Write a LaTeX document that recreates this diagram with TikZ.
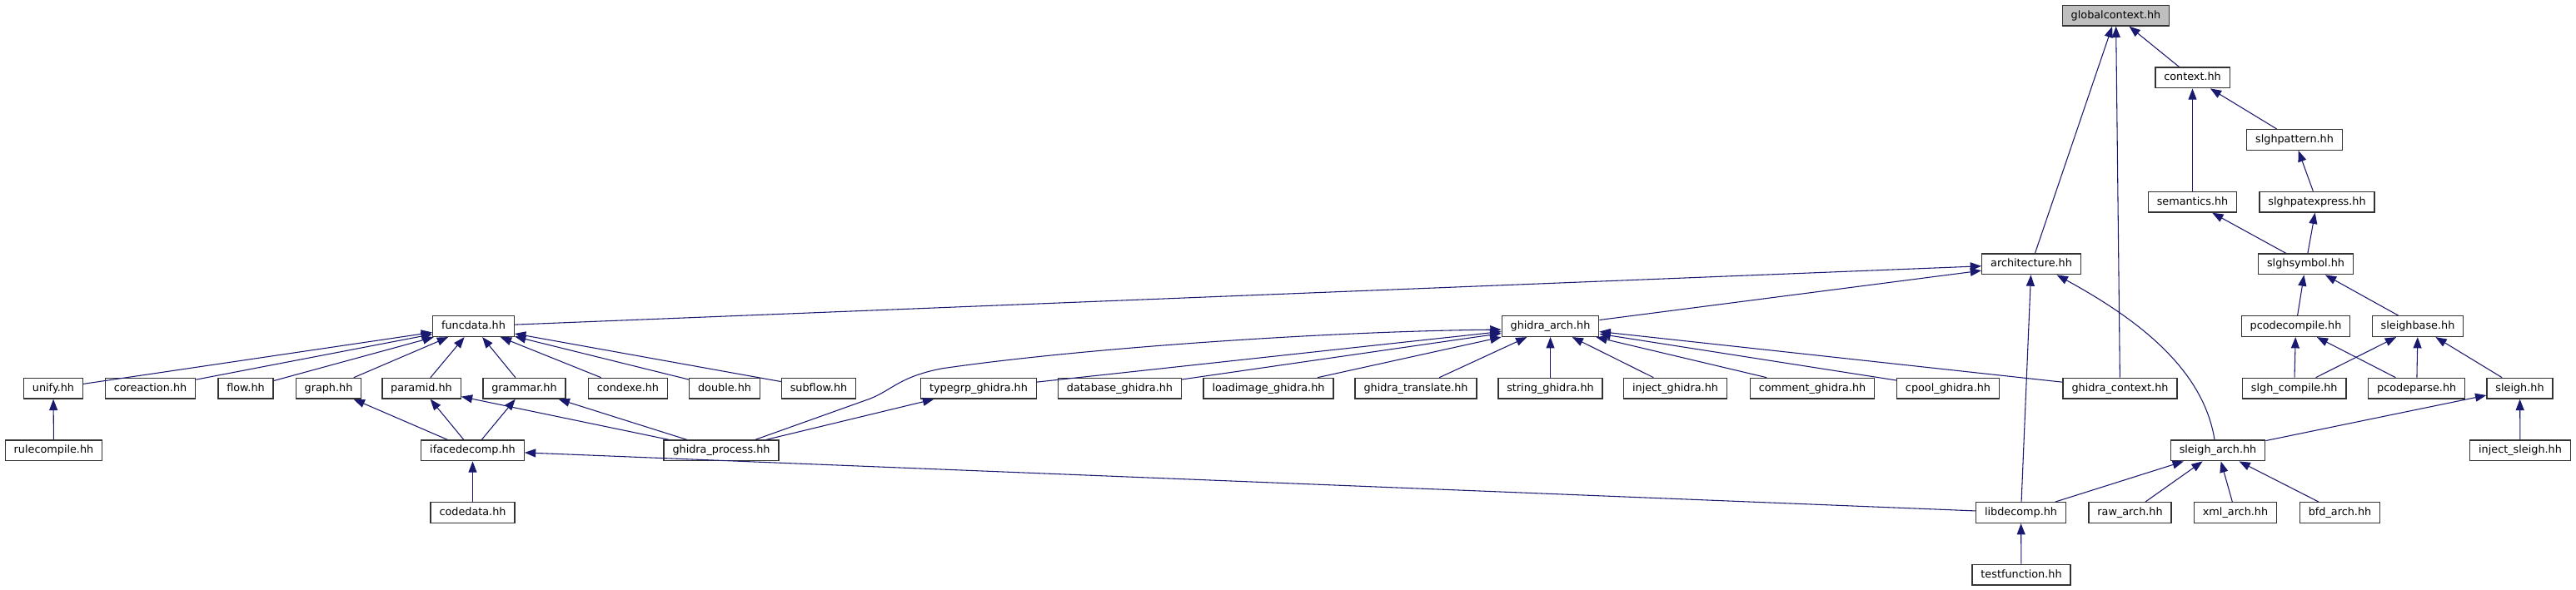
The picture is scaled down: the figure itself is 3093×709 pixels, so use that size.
\documentclass[tikz,border=0pt]{standalone}
\usepackage{fontspec}
\newfontfamily\dejavu{DejaVu Sans}
\usetikzlibrary{arrows.meta}
\definecolor{edgeblue}{RGB}{25,25,112}

\begin{document}
\begin{tikzpicture}[
                    x=0.75pt, y=-0.75pt,
                    hdr/.style={draw=black!80, line width=1pt, rectangle, fill=white, minimum height=18.5pt, inner xsep=7.8pt, inner ysep=0pt, text height=7.2pt, text depth=1.9pt, font=\dejavu\fontsize{9.6pt}{11pt}\selectfont},
                    root/.style={hdr, fill=black!25},
                    incl/.style={-{Triangle[length=10pt, width=7.5pt]}, draw=edgeblue, line width=0.8pt}
                ]
                \useasboundingbox (0,0) rectangle (3093,709);

                % Top: globalcontext and the sleigh chain
                \node[root] (gcontext) at (2540.5,18.7) {globalcontext.hh};
                \node[hdr] (context) at (2632.5,93.4) {context.hh};
                \node[hdr] (slghpattern) at (2755,168) {slghpattern.hh};
                \node[hdr] (semantics) at (2632.5,242.7) {semantics.hh};
                \node[hdr] (slghpatexpr) at (2782,242.7) {slghpatexpress.hh};
                \node[hdr] (arch) at (2439,317.4) {architecture.hh};
                \node[hdr] (slghsymbol) at (2768.5,317.4) {slghsymbol.hh};

                % Rank of funcdata and ghidra_arch
                \node[hdr] (funcdata) at (568.5,392.1) {funcdata.hh};
                \node[hdr] (ghidraarch) at (1861.5,392.1) {ghidra\_arch.hh};
                \node[hdr] (pcodecompile) at (2756.5,392.1) {pcodecompile.hh};
                \node[hdr] (sleighbase) at (2903,392.1) {sleighbase.hh};

                % Includers of funcdata
                \node[hdr] (unify) at (64,466.7) {unify.hh};
                \node[hdr] (coreaction) at (180.5,466.7) {coreaction.hh};
                \node[hdr] (flow) at (295,466.7) {flow.hh};
                \node[hdr] (graph) at (394.5,466.7) {graph.hh};
                \node[hdr] (paramid) at (506,466.7) {paramid.hh};
                \node[hdr] (grammar) at (629.5,466.7) {grammar.hh};
                \node[hdr] (condexe) at (754,466.7) {condexe.hh};
                \node[hdr] (double) at (870,466.7) {double.hh};
                \node[hdr] (subflow) at (983,466.7) {subflow.hh};

                % Includers of ghidra_arch
                \node[hdr] (typegrp) at (1175,466.7) {typegrp\_ghidra.hh};
                \node[hdr] (database) at (1344.5,466.7) {database\_ghidra.hh};
                \node[hdr] (loadimage) at (1523,466.7) {loadimage\_ghidra.hh};
                \node[hdr] (translate) at (1700,466.7) {ghidra\_translate.hh};
                \node[hdr] (stringg) at (1861.5,466.7) {string\_ghidra.hh};
                \node[hdr] (injectg) at (2011.5,466.7) {inject\_ghidra.hh};
                \node[hdr] (commentg) at (2176,466.7) {comment\_ghidra.hh};
                \node[hdr] (cpoolg) at (2339,466.7) {cpool\_ghidra.hh};
                \node[hdr] (ghidractx) at (2545.5,466.7) {ghidra\_context.hh};
                \node[hdr] (slghcompile) at (2754.7,466.7) {slgh\_compile.hh};
                \node[hdr] (pcodeparse) at (2901.7,466.7) {pcodeparse.hh};
                \node[hdr] (sleigh) at (3025.5,466.7) {sleigh.hh};

                % Lower ranks
                \node[hdr] (rulecompile) at (64.5,541.4) {rulecompile.hh};
                \node[hdr] (ifacedecomp) at (567.5,541.4) {ifacedecomp.hh};
                \node[hdr] (ghidraproc) at (866,541.4) {ghidra\_process.hh};
                \node[hdr] (sleigharch) at (2663,541.4) {sleigh\_arch.hh};
                \node[hdr] (injectsleigh) at (3026,541.4) {inject\_sleigh.hh};
                \node[hdr] (codedata) at (567.5,616.1) {codedata.hh};
                \node[hdr] (libdecomp) at (2426.5,616.1) {libdecomp.hh};
                \node[hdr] (rawarch) at (2557.5,616.1) {raw\_arch.hh};
                \node[hdr] (xmlarch) at (2684,616.1) {xml\_arch.hh};
                \node[hdr] (bfdarch) at (2809.5,616.1) {bfd\_arch.hh};
                \node[hdr] (testfunction) at (2427,690.7) {testfunction.hh};

                % Connections, sleigh side
                \draw[incl] (arch) -- (gcontext);
                \draw[incl] (ghidractx) -- (gcontext);
                \draw[incl] (context) -- (gcontext);
                \draw[incl] (semantics) -- (context);
                \draw[incl] (slghpattern) -- (context);
                \draw[incl] (slghpatexpr) -- (slghpattern);
                \draw[incl] (slghsymbol) -- (semantics);
                \draw[incl] (slghsymbol) -- (slghpatexpr);
                \draw[incl] (pcodecompile) -- (slghsymbol);
                \draw[incl] (sleighbase) -- (slghsymbol);
                \draw[incl] (slghcompile) -- (pcodecompile);
                \draw[incl] (pcodeparse) -- (pcodecompile);
                \draw[incl] (slghcompile) -- (sleighbase);
                \draw[incl] (pcodeparse) -- (sleighbase);
                \draw[incl] (sleigh) -- (sleighbase);
                \draw[incl] (sleigharch) -- (sleigh);
                \draw[incl] (injectsleigh) -- (sleigh);

                % Connections into architecture
                \draw[incl] (funcdata) -- (arch);
                \draw[incl] (ghidraarch) -- (arch);
                \draw[incl] (libdecomp) -- (arch);
                \draw[incl] ([xshift=-3pt]sleigharch.north) .. controls (2645,440) and (2560,380) .. ([xshift=-22pt]arch.south east);
                \draw[incl] (libdecomp) -- (sleigharch);
                \draw[incl] (rawarch) -- (sleigharch);
                \draw[incl] (xmlarch) -- (sleigharch);
                \draw[incl] (bfdarch) -- (sleigharch);
                \draw[incl] (testfunction) -- (libdecomp);
                \draw[incl] (libdecomp) -- (ifacedecomp);
                \draw[incl] (codedata) -- (ifacedecomp);

                % Connections into funcdata
                \draw[incl] (unify) -- (funcdata);
                \draw[incl] (coreaction) -- (funcdata);
                \draw[incl] (flow) -- (funcdata);
                \draw[incl] (graph) -- (funcdata);
                \draw[incl] (paramid) -- (funcdata);
                \draw[incl] (grammar) -- (funcdata);
                \draw[incl] (condexe) -- (funcdata);
                \draw[incl] (double) -- (funcdata);
                \draw[incl] (subflow) -- (funcdata);
                \draw[incl] (rulecompile) -- (unify);
                \draw[incl] (ifacedecomp) -- (graph);
                \draw[incl] (ifacedecomp) -- (paramid);
                \draw[incl] (ifacedecomp) -- (grammar);
                \draw[incl] (ghidraproc) -- (paramid);
                \draw[incl] (ghidraproc) -- (grammar);

                % Connections into ghidra_arch
                \draw[incl] ([xshift=30.5pt]ghidraproc.north) -- (1045,479) .. controls (1072,468) and (1080,453) .. (1130,443) .. controls (1300,418) and (1600,398) .. ([yshift=-3pt]ghidraarch.west);
                \draw[incl] (ghidraproc) -- (typegrp);
                \draw[incl] (typegrp) -- (ghidraarch);
                \draw[incl] (database) -- (ghidraarch);
                \draw[incl] (loadimage) -- (ghidraarch);
                \draw[incl] (translate) -- (ghidraarch);
                \draw[incl] (stringg) -- (ghidraarch);
                \draw[incl] (injectg) -- (ghidraarch);
                \draw[incl] (commentg) -- (ghidraarch);
                \draw[incl] (cpoolg) -- (ghidraarch);
                \draw[incl] (ghidractx) -- (ghidraarch);
            \end{tikzpicture}
\end{document}
